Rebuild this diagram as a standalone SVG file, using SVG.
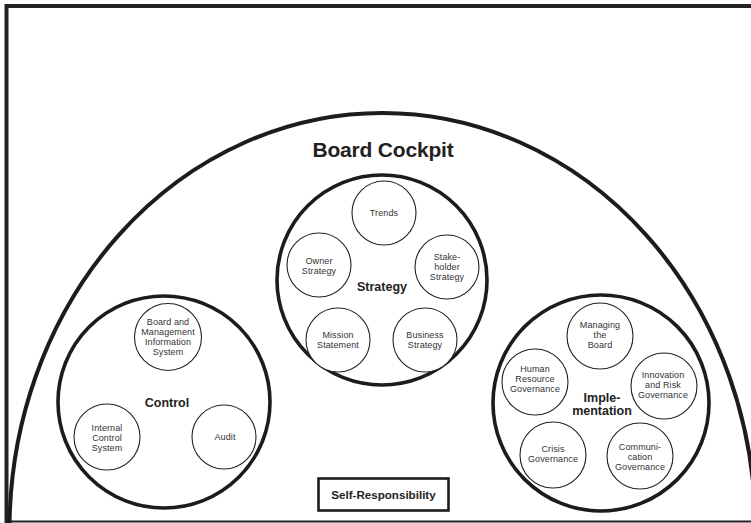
<svg xmlns="http://www.w3.org/2000/svg" width="751" height="523" viewBox="0 0 751 523">
<style>
.frame{fill:none;stroke:#222;stroke-width:4}
.big{fill:none;stroke:#1c1c1c;stroke-width:4}
.grp{fill:none;stroke:#1c1c1c;stroke-width:3.6}
.sm{fill:#fff;stroke:#222;stroke-width:1.1}
.t{font-family:"Liberation Sans",Arial,sans-serif;font-size:9px;fill:#333;text-anchor:middle;letter-spacing:0.1px}
.b{font-family:"Liberation Sans",Arial,sans-serif;font-size:12.5px;font-weight:bold;fill:#222;text-anchor:middle}
.title{font-family:"Liberation Sans",Arial,sans-serif;font-size:21px;font-weight:bold;fill:#222;text-anchor:middle;letter-spacing:-0.2px}
</style>
<rect width="751" height="523" fill="#fff"/>
<g id="frame">
<path class="frame" d="M6.5,523 V6 H751"/>
<line x1="8" y1="521.5" x2="751" y2="521.5" stroke="#222" stroke-width="2"/>
</g>
<g id="board-cockpit">
<ellipse class="big" cx="382.5" cy="530" rx="373" ry="417"/>
<text class="title" x="383" y="157">Board Cockpit</text>
</g>
<g id="strategy">
<circle class="grp" cx="382" cy="280" r="105"/>
<text class="b" x="382" y="291">Strategy</text>
<g id="trends"><circle class="sm" cx="384" cy="213" r="32"/><text class="t" x="384" y="216">Trends</text></g>
<g id="owner-strategy"><circle class="sm" cx="319" cy="265" r="32"/><text class="t" x="319" y="264">Owner</text><text class="t" x="319" y="274">Strategy</text></g>
<g id="stakeholder-strategy"><circle class="sm" cx="447" cy="267" r="32"/><text class="t" x="447" y="260">Stake-</text><text class="t" x="447" y="270">holder</text><text class="t" x="447" y="280">Strategy</text></g>
<g id="mission-statement"><circle class="sm" cx="338" cy="340" r="32"/><text class="t" x="338" y="338">Mission</text><text class="t" x="338" y="348">Statement</text></g>
<g id="business-strategy"><circle class="sm" cx="425" cy="340" r="32"/><text class="t" x="425" y="338">Business</text><text class="t" x="425" y="348">Strategy</text></g>
</g>
<g id="control">
<circle class="grp" cx="164" cy="402" r="106"/>
<text class="b" x="167" y="407">Control</text>
<g id="bmis"><circle class="sm" cx="168" cy="337" r="33.5"/><text class="t" x="168" y="325">Board and</text><text class="t" x="168" y="335">Management</text><text class="t" x="168" y="345">Information</text><text class="t" x="168" y="355">System</text></g>
<g id="internal-control-system"><circle class="sm" cx="107" cy="437" r="33"/><text class="t" x="107" y="431">Internal</text><text class="t" x="107" y="441">Control</text><text class="t" x="107" y="451">System</text></g>
<g id="audit"><circle class="sm" cx="224" cy="437" r="32"/><text class="t" x="225" y="440">Audit</text></g>
</g>
<g id="implementation">
<circle class="grp" cx="601" cy="403" r="108"/>
<text class="b" x="602" y="402">Imple-</text>
<text class="b" x="602" y="415">mentation</text>
<g id="managing-the-board"><circle class="sm" cx="600" cy="336" r="33"/><text class="t" x="600" y="328">Managing</text><text class="t" x="600" y="338">the</text><text class="t" x="600" y="348">Board</text></g>
<g id="hr-governance"><circle class="sm" cx="535" cy="382" r="33"/><text class="t" x="535" y="372">Human</text><text class="t" x="535" y="382">Resource</text><text class="t" x="535" y="392">Governance</text></g>
<g id="innovation-risk"><circle class="sm" cx="664" cy="386" r="33"/><text class="t" x="663" y="378">Innovation</text><text class="t" x="663" y="388">and Risk</text><text class="t" x="663" y="398">Governance</text></g>
<g id="crisis-governance"><circle class="sm" cx="553" cy="455" r="33"/><text class="t" x="553" y="452">Crisis</text><text class="t" x="553" y="462">Governance</text></g>
<g id="communication-governance"><circle class="sm" cx="640" cy="456" r="33"/><text class="t" x="640" y="450">Communi-</text><text class="t" x="640" y="460">cation</text><text class="t" x="640" y="470">Governance</text></g>
</g>
<g id="self-responsibility">
<rect x="318.5" y="478.5" width="130" height="32" fill="#fff" stroke="#1c1c1c" stroke-width="2.6"/>
<text class="b" x="383.5" y="499" style="font-size:11.6px">Self-Responsibility</text>
</g>
<g id="connectors"/>
</svg>
